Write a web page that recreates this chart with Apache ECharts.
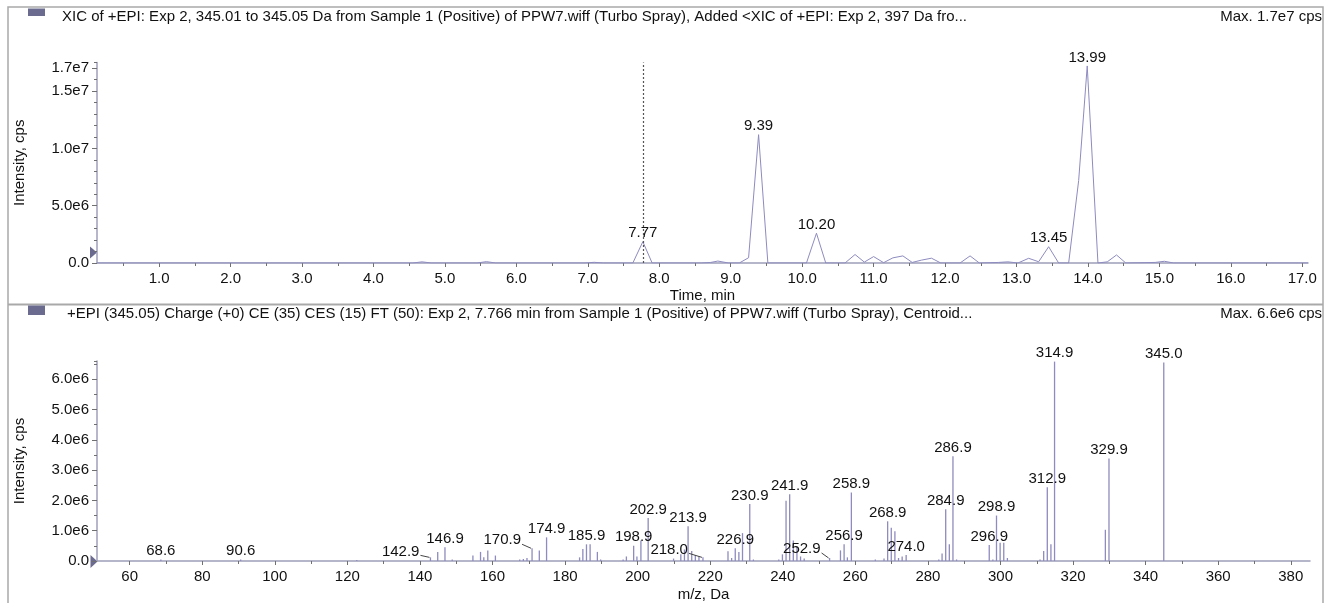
<!DOCTYPE html>
<html><head><meta charset="utf-8">
<script src="https://cdn.jsdelivr.net/npm/echarts@6/dist/echarts.min.js"></script>
<style>html,body{margin:0;padding:0;background:#fff}#c{width:1333px;height:603px}</style>
</head><body><div id="c"></div>
<script>
// ---------- Top panel: XIC chromatogram ----------
const xicTime = [0.13, 4.55, 4.68, 4.81, 5.45, 5.58, 5.71, 6.95, 7.09, 7.22, 7.63, 7.77, 7.90, 8.59, 8.72, 8.82, 8.97, 9.12, 9.25, 9.39, 9.52, 10.06, 10.20, 10.33, 10.60, 10.74, 10.87, 11.00, 11.14, 11.27, 11.41, 11.54, 11.67, 11.81, 11.94, 12.21, 12.35, 12.48, 12.75, 12.88, 13.02, 13.17, 13.31, 13.45, 13.59, 13.73, 13.87, 13.99, 14.14, 14.27, 14.40, 14.53, 14.94, 15.07, 15.20, 17.08];
const xicIntensity = [0, 0, 1.0e5, 0, 0, 1.2e5, 0, 0, 6e4, 0, 0, 1.86e6, 0, 0, 5e4, 1.7e5, 0, 0, 4.6e5, 1.12e7, 0, 0, 2.6e6, 0, 0, 7.4e5, 8e4, 5.6e5, 3e4, 4.5e5, 6.2e5, 5e4, 2.5e5, 4.2e5, 0, 0, 6.2e5, 0, 5e4, 1e5, 0, 4.1e5, 1.1e5, 1.42e6, 0, 0, 7.2e6, 1.72e7, 0, 1e5, 7e5, 0, 5e4, 1.5e5, 0, 0];
const xicPeakTimes = [7.77, 9.39, 10.20, 13.45, 13.99];
const xicCursorTime = 7.77;
const xicXTicks = [1,2,3,4,5,6,7,8,9,10,11,12,13,14,15,16,17];
const xicXMinor = [0.5,1.5,2.5,3.5,4.5,5.5,6.5,7.5,8.5,9.5,10.5,11.5,12.5,13.5,14.5,15.5,16.5];
const xicYTickValues = [0, 5e6, 1e7, 1.5e7, 1.7e7];
const xicYTickLabels = ['0.0', '5.0e6', '1.0e7', '1.5e7', '1.7e7'];

// ---------- Bottom panel: EPI spectrum ----------
const specMz = [68.6, 90.6, 122.6, 142.9, 144.9, 146.9, 148.9, 154.6, 156.7, 157.6, 158.7, 160.8, 167.5, 168.5, 169.5, 170.9, 172.9, 174.9, 184.0, 184.9, 185.9, 186.9, 188.9, 189.8, 196.0, 196.9, 198.9, 199.8, 200.9, 202.9, 209.9, 211.9, 212.9, 213.9, 214.9, 215.9, 216.9, 218.0, 224.9, 225.9, 226.9, 227.9, 228.9, 230.9, 231.9, 238.9, 239.9, 240.9, 241.9, 242.9, 243.9, 244.9, 245.9, 252.9, 255.9, 256.9, 257.8, 258.9, 265.5, 267.9, 268.9, 269.9, 270.9, 271.9, 272.9, 274.0, 283.0, 283.9, 284.9, 285.9, 286.9, 287.9, 296.9, 297.9, 298.9, 299.9, 300.9, 301.9, 310.9, 311.9, 312.9, 313.9, 314.9, 328.9, 329.9, 345.0];
const specIntensity = [5e4, 5e4, 3e4, 1.2e5, 3e5, 4.5e5, 5e4, 1.8e5, 3e5, 1.2e5, 3.5e5, 1.8e5, 5e4, 7e4, 1e5, 4.2e5, 3.5e5, 7.8e5, 1.2e5, 4e5, 5.5e5, 5.5e5, 3e5, 5e4, 5e4, 1.5e5, 5e5, 1.5e5, 6.8e5, 1.42e6, 8e4, 2.2e5, 3.8e5, 1.15e6, 3.3e5, 2e5, 1.5e5, 1.2e5, 3.2e5, 1e5, 4.2e5, 3e5, 9.2e5, 1.88e6, 5e4, 5e4, 2.2e5, 1.99e6, 2.2e6, 6.8e5, 4.6e5, 1.5e5, 8e4, 1e5, 3.5e5, 5.5e5, 1.2e5, 2.26e6, 5e4, 8e4, 1.31e6, 1.1e6, 9.8e5, 1e5, 1.5e5, 2e5, 5e4, 2.5e5, 1.71e6, 5.5e5, 3.46e6, 5e4, 5.3e5, 5e4, 1.5e6, 6e5, 6e5, 1e5, 5e4, 3.3e5, 2.43e6, 5.5e5, 6.58e6, 1.03e6, 3.38e6, 6.55e6];
const specPeakMz = [68.6, 90.6, 146.9, 174.9, 185.9, 198.9, 202.9, 213.9, 226.9, 230.9, 241.9, 256.9, 258.9, 268.9, 274.0, 284.9, 286.9, 296.9, 298.9, 312.9, 314.9, 329.9, 345.0];
const specLeaderMz = [142.9, 170.9, 218.0, 252.9];
const specXTicks = [60,80,100,120,140,160,180,200,220,240,260,280,300,320,340,360,380];
const specXMinor = [70,90,110,130,150,170,190,210,230,250,270,290,310,330,350,370];
const specYTickValues = [0, 1e6, 2e6, 3e6, 4e6, 5e6, 6e6];
const specYTickLabels = ['0.0', '1.0e6', '2.0e6', '3.0e6', '4.0e6', '5.0e6', '6.0e6'];

const headerTop = 'XIC of +EPI: Exp 2, 345.01 to 345.05 Da from Sample 1 (Positive) of PPW7.wiff (Turbo Spray), Added <XIC of +EPI: Exp 2, 397 Da fro...';
const headerTopMax = 'Max. 1.7e7 cps';
const headerBottom = '+EPI (345.05) Charge (+0) CE (35) CES (15) FT (50): Exp 2, 7.766 min from Sample 1 (Positive) of PPW7.wiff (Turbo Spray), Centroid...';
const headerBottomMax = 'Max. 6.6e6 cps';

// ---------- build ----------
const FONT = "'Liberation Sans', Arial, sans-serif";
const FS = 15;
const TXT = '#111';
const LINEC = '#8d8bbf';
const AXC = '#9f9fba';
const TICKC = '#707070';

const xicData = xicTime.map((t, i) => [t, xicIntensity[i]]);
const xicLabelData = xicPeakTimes.map(t => [t, xicIntensity[xicTime.indexOf(t)]]);
const specData = specMz.map((m, i) => [m, specIntensity[i]]);
const specLabelData = specPeakMz.map(m => [m, specIntensity[specMz.indexOf(m)]]);
const specLeaderData = specLeaderMz.map(m => [m, specIntensity[specMz.indexOf(m)]]);
const leaderShift = [{dx: -11, dy: -6}, {dx: -11, dy: -8}, {dx: -15, dy: -8}, {dx: -9, dy: -9}];

function lookup(vals, labels) {
  return v => { const i = vals.findIndex(x => Math.abs(x - v) < 1e-3 * Math.max(1, Math.abs(x))); return i >= 0 ? labels[i] : ''; };
}

const grids = [
  {left: 97, top: 62.5, width: 1211, height: 200.5},
  {left: 97, top: 361, width: 1213, height: 201.3}
];

function xMajor(gi, min, max, ticks, fmt, name, gap) {
  return {type: 'value', gridIndex: gi, position: 'bottom', min, max,
    name, nameLocation: 'middle', nameGap: gap,
    nameTextStyle: {fontFamily: FONT, fontSize: FS, color: TXT},
    axisLine: {show: true, lineStyle: {color: AXC, width: 1.5}},
    axisTick: {show: true, customValues: ticks, length: 4, lineStyle: {color: TICKC}},
    axisLabel: {show: true, customValues: ticks, formatter: fmt, margin: 8, fontFamily: FONT, fontSize: FS, color: TXT},
    splitLine: {show: false}};
}
function xMinor(gi, min, max, ticks) {
  return {type: 'value', gridIndex: gi, position: 'bottom', min, max,
    axisLine: {show: false}, axisLabel: {show: false}, splitLine: {show: false},
    axisTick: {show: true, customValues: ticks, length: 3, lineStyle: {color: TICKC}}};
}
function yMajor(gi, max, vals, labels) {
  return {type: 'value', gridIndex: gi, position: 'left', min: 0, max,
    name: 'Intensity, cps', nameLocation: 'middle', nameGap: 70, nameRotate: 90,
    nameTextStyle: {fontFamily: FONT, fontSize: FS, color: TXT},
    axisLine: {show: true, lineStyle: {color: AXC, width: 1.5}},
    axisTick: {show: true, customValues: vals, length: 5, lineStyle: {color: TICKC}},
    axisLabel: {show: true, customValues: vals, formatter: lookup(vals, labels), margin: 8, fontFamily: FONT, fontSize: FS, color: TXT},
    splitLine: {show: false}};
}
function yMinor(gi, max, interval) {
  return {type: 'value', gridIndex: gi, position: 'left', min: 0, max, interval,
    axisLine: {show: false}, axisLabel: {show: false}, splitLine: {show: false},
    axisTick: {show: true, length: 3, lineStyle: {color: TICKC}}};
}

const labelStyle = {show: true, position: 'top', distance: 1, fontFamily: FONT, fontSize: FS, color: TXT, opacity: 1};

const option = {
  backgroundColor: '#fff',
  animation: false,
  grid: grids,
  xAxis: [
    xMajor(0, 0.13, 17.08, xicXTicks, v => v.toFixed(1), 'Time, min', 25),
    xMinor(0, 0.13, 17.08, xicXMinor),
    xMajor(1, 51, 385.3, specXTicks, v => String(v), 'm/z, Da', 26),
    xMinor(1, 51, 385.3, specXMinor)
  ],
  yAxis: [
    yMajor(0, 1.75e7, xicYTickValues, xicYTickLabels),
    yMinor(0, 1.75e7, 1e6),
    yMajor(1, 6.6e6, specYTickValues, specYTickLabels),
    yMinor(1, 6.6e6, 5e5)
  ],
  series: [
    {type: 'line', xAxisIndex: 0, yAxisIndex: 0, data: xicData, showSymbol: false,
     lineStyle: {color: LINEC, width: 1}, itemStyle: {color: LINEC}, z: 3,
     markLine: {silent: true, symbol: 'none', label: {show: false},
       lineStyle: {color: '#555', type: [2, 2], width: 1.2},
       data: [{xAxis: xicCursorTime}]}},
    {type: 'scatter', xAxisIndex: 0, yAxisIndex: 0, data: xicLabelData, symbolSize: 0,
     itemStyle: {opacity: 1},
     label: Object.assign({}, labelStyle, {formatter: p => p.value[0].toFixed(2)}), z: 5},
    {type: 'bar', xAxisIndex: 2, yAxisIndex: 2, data: specData, barWidth: 1.3,
     itemStyle: {color: LINEC}, z: 3},
    {type: 'scatter', xAxisIndex: 2, yAxisIndex: 2, data: specLabelData, symbolSize: 0,
     itemStyle: {opacity: 1},
     label: Object.assign({}, labelStyle, {formatter: p => p.value[0].toFixed(1)}), z: 5},
    {type: 'custom', xAxisIndex: 2, yAxisIndex: 2, data: specLeaderData, z: 5,
     renderItem: (params, api) => {
       const m = api.value(0), v = api.value(1);
       const p = api.coord([m, v]);
       const s = leaderShift[params.dataIndex];
       return {type: 'group', children: [
         {type: 'text', style: {text: m.toFixed(1), x: p[0] + s.dx, y: p[1] + s.dy,
           align: 'right', verticalAlign: 'middle', font: FS + 'px ' + FONT, fill: TXT}},
         {type: 'line', shape: {x1: p[0] + s.dx + 1, y1: p[1] + s.dy + 4, x2: p[0] - 1, y2: p[1]},
           style: {stroke: '#444', lineWidth: 1}}
       ]};
     }}
  ],
  graphic: [
    {type: 'rect', shape: {x: 8, y: 7, width: 1315, height: 605}, style: {fill: 'none', stroke: '#a9a9a9', lineWidth: 1.5}, silent: true},
    {type: 'line', shape: {x1: 8, y1: 304.5, x2: 1323, y2: 304.5}, style: {stroke: '#a9a9a9', lineWidth: 2}, silent: true},
    {type: 'rect', shape: {x: 28, y: 8.5, width: 17, height: 7.5}, style: {fill: '#6b6b90'}},
    {type: 'rect', shape: {x: 28, y: 305.5, width: 17, height: 9.5}, style: {fill: '#6b6b90'}},
    {type: 'text', x: 62, y: 17, style: {text: headerTop, font: FS + 'px ' + FONT, fill: TXT, textVerticalAlign: 'middle'}},
    {type: 'text', x: 1322, y: 17, style: {text: headerTopMax, font: FS + 'px ' + FONT, fill: TXT, textAlign: 'right', textVerticalAlign: 'middle'}},
    {type: 'text', x: 67, y: 314, style: {text: headerBottom, font: FS + 'px ' + FONT, fill: TXT, textVerticalAlign: 'middle'}},
    {type: 'text', x: 1322, y: 314, style: {text: headerBottomMax, font: FS + 'px ' + FONT, fill: TXT, textAlign: 'right', textVerticalAlign: 'middle'}},
    {type: 'polygon', shape: {points: [[90, 246.5], [97, 252.5], [90, 258.5]]}, style: {fill: '#6b6b90'}},
    {type: 'polygon', shape: {points: [[90.5, 555], [97.5, 561.5], [90.5, 568]]}, style: {fill: '#6b6b90'}}
  ]
};

const chart = echarts.init(document.getElementById('c'), null, {renderer: 'canvas'});
chart.setOption(option);
</script>
</body></html>
